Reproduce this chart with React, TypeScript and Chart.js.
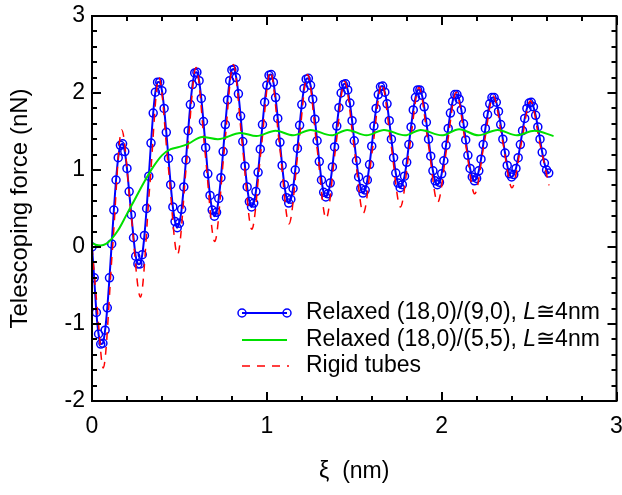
import React, { useEffect, useRef } from "react";
import { Chart, registerables } from "chart.js";
Chart.register(...registerables);

// ---------------- data ----------------
const xTickValues = [0, 1, 2, 3];
const yTickValues = [-2, -1, 0, 1, 2, 3];

// Relaxed (18,0)/(9,0)
const relaxed90Xi = [
  0, 0.0125, 0.025, 0.0375, 0.05, 0.0625, 0.075, 0.0875,
  0.1, 0.1125, 0.125, 0.1375, 0.15, 0.1625, 0.175, 0.1875,
  0.2, 0.2125, 0.225, 0.2375, 0.25, 0.2625, 0.275, 0.2875,
  0.3, 0.3125, 0.325, 0.3375, 0.35, 0.3625, 0.375, 0.3875,
  0.4, 0.4125, 0.425, 0.4375, 0.45, 0.4625, 0.475, 0.4875,
  0.5, 0.5125, 0.525, 0.5375, 0.55, 0.5625, 0.575, 0.5875,
  0.6, 0.6125, 0.625, 0.6375, 0.65, 0.6625, 0.675, 0.6875,
  0.7, 0.7125, 0.725, 0.7375, 0.75, 0.7625, 0.775, 0.7875,
  0.8, 0.8125, 0.825, 0.8375, 0.85, 0.8625, 0.875, 0.8875,
  0.9, 0.9125, 0.925, 0.9375, 0.95, 0.9625, 0.975, 0.9875,
  1.0, 1.0125, 1.025, 1.0375, 1.05, 1.0625, 1.075, 1.0875,
  1.1, 1.1125, 1.125, 1.1375, 1.15, 1.1625, 1.175, 1.1875,
  1.2, 1.2125, 1.225, 1.2375, 1.25, 1.2625, 1.275, 1.2875,
  1.3, 1.3125, 1.325, 1.3375, 1.35, 1.3625, 1.375, 1.3875,
  1.4, 1.4125, 1.425, 1.4375, 1.45, 1.4625, 1.475, 1.4875,
  1.5, 1.5125, 1.525, 1.5375, 1.55, 1.5625, 1.575, 1.5875,
  1.6, 1.6125, 1.625, 1.6375, 1.65, 1.6625, 1.675, 1.6875,
  1.7, 1.7125, 1.725, 1.7375, 1.75, 1.7625, 1.775, 1.7875,
  1.8, 1.8125, 1.825, 1.8375, 1.85, 1.8625, 1.875, 1.8875,
  1.9, 1.9125, 1.925, 1.9375, 1.95, 1.9625, 1.975, 1.9875,
  2.0, 2.0125, 2.025, 2.0375, 2.05, 2.0625, 2.075, 2.0875,
  2.1, 2.1125, 2.125, 2.1375, 2.15, 2.1625, 2.175, 2.1875,
  2.2, 2.2125, 2.225, 2.2375, 2.25, 2.2625, 2.275, 2.2875,
  2.3, 2.3125, 2.325, 2.3375, 2.35, 2.3625, 2.375, 2.3875,
  2.4, 2.4125, 2.425, 2.4375, 2.45, 2.4625, 2.475, 2.4875,
  2.5, 2.5125, 2.525, 2.5375, 2.55, 2.5625, 2.575, 2.5875,
  2.6, 2.6125,
];
const relaxed90Force = [
  0.0, -0.4, -0.85, -1.13, -1.26, -1.25, -1.08, -0.79, -0.4, 0.04, 0.48, 0.87, 1.16, 1.32, 1.34, 1.24, 1.02,
  0.72, 0.42, 0.12, -0.12, -0.22, -0.22, -0.1, 0.15, 0.5, 0.92, 1.35, 1.74, 2.01, 2.14, 2.14, 2.03, 1.8,
  1.49, 1.15, 0.81, 0.52, 0.33, 0.25, 0.31, 0.49, 0.78, 1.13, 1.51, 1.85, 2.11, 2.26, 2.27, 2.16, 1.93,
  1.63, 1.29, 0.95, 0.67, 0.48, 0.4, 0.45, 0.63, 0.9, 1.24, 1.59, 1.91, 2.16, 2.3, 2.31, 2.2, 1.99,
  1.7, 1.37, 1.05, 0.78, 0.59, 0.52, 0.57, 0.72, 0.97, 1.27, 1.59, 1.88, 2.1, 2.23, 2.24, 2.14, 1.94,
  1.67, 1.36, 1.06, 0.81, 0.64, 0.57, 0.62, 0.76, 1.0, 1.28, 1.58, 1.85, 2.06, 2.18, 2.19, 2.1, 1.92,
  1.66, 1.38, 1.11, 0.87, 0.71, 0.65, 0.69, 0.83, 1.04, 1.3, 1.57, 1.81, 2.0, 2.11, 2.12, 2.04, 1.87,
  1.64, 1.38, 1.12, 0.91, 0.76, 0.7, 0.74, 0.87, 1.07, 1.31, 1.57, 1.8, 1.98, 2.08, 2.09, 2.01, 1.86,
  1.64, 1.4, 1.16, 0.96, 0.83, 0.77, 0.81, 0.92, 1.1, 1.33, 1.56, 1.78, 1.94, 2.04, 2.04, 1.97, 1.82,
  1.62, 1.4, 1.18, 0.99, 0.86, 0.81, 0.84, 0.95, 1.12, 1.32, 1.54, 1.74, 1.89, 1.98, 1.98, 1.92, 1.78,
  1.6, 1.39, 1.19, 1.02, 0.91, 0.86, 0.89, 0.99, 1.14, 1.33, 1.54, 1.72, 1.86, 1.94, 1.94, 1.88, 1.76,
  1.59, 1.4, 1.22, 1.06, 0.95, 0.91, 0.94, 1.02, 1.16, 1.33, 1.51, 1.67, 1.8, 1.87, 1.88, 1.82, 1.71,
  1.56, 1.4, 1.23, 1.09, 1.0, 0.96,
];

// Relaxed (18,0)/(5,5)
const relaxed55Xi = [
  0, 0.02, 0.05, 0.08, 0.11, 0.15, 0.2, 0.25, 0.3, 0.35, 0.4, 0.45, 0.5, 0.55, 0.63, 0.72,
  0.85, 0.94, 1.05, 1.15, 1.25, 1.37, 1.46, 1.57, 1.67, 1.79, 1.88, 2.0, 2.1, 2.21, 2.32, 2.43, 2.53, 2.64,
];
const relaxed55Force = [
  0.05, 0.03, 0.02, 0.04, 0.1, 0.22, 0.43, 0.64, 0.85, 1.04, 1.19, 1.27, 1.3, 1.34, 1.43, 1.4,
  1.48, 1.44, 1.51, 1.45, 1.52, 1.45, 1.52, 1.45, 1.52, 1.45, 1.52, 1.45, 1.53, 1.45, 1.52, 1.45, 1.51, 1.44,
];

// Rigid tubes
const rigidXi = [
  0, 0.032, 0.064, 0.117, 0.17, 0.223, 0.277, 0.33, 0.383, 0.436, 0.489, 0.542, 0.595, 0.648,
  0.702, 0.755, 0.808, 0.861, 0.914, 0.967, 1.02, 1.074, 1.127, 1.18, 1.233, 1.286, 1.339, 1.392,
  1.445, 1.499, 1.552, 1.605, 1.658, 1.711, 1.764, 1.817, 1.87, 1.924, 1.977, 2.03, 2.083, 2.136,
  2.189, 2.242, 2.295, 2.349, 2.402, 2.455, 2.508, 2.561, 2.614,
];
const rigidForce = [
  0.0, -0.85, -1.57, -0.03, 1.52, 0.44, -0.65, 0.78, 2.2, 1.05, -0.1, 1.12, 2.33, 1.2,
  0.07, 1.22, 2.37, 1.3, 0.23, 1.26, 2.28, 1.29, 0.3, 1.27, 2.24, 1.31, 0.37, 1.26,
  2.15, 1.3, 0.44, 1.28, 2.12, 1.32, 0.52, 1.3, 2.07, 1.33, 0.58, 1.3, 2.01, 1.35,
  0.69, 1.33, 1.96, 1.37, 0.77, 1.34, 1.9, 1.35, 0.8,
];

const seriesLabels = ["Relaxed (18,0)/(9,0), ", "Relaxed (18,0)/(5,5), ", "Rigid tubes"];
const xTitle = "ξ  (nm)";
const yTitle = "Telescoping force (nN)";

const FONT = "'Liberation Sans', Arial, sans-serif";
const FS = 23;
const BLUE = "#0000ff";
const GREEN = "#00e000";
const RED = "#ff0000";

function pts(xs: number[], ys: number[]) {
  return xs.map((x, i) => ({ x, y: ys[i] }));
}

export default function App() {
  const ref = useRef<HTMLCanvasElement>(null);
  useEffect(() => {
    document.body.style.margin = "0";
    const canvas = ref.current!;

    const decor = {
      id: "decor",
      afterDatasetsDraw(chart: any) {
        const { ctx, chartArea: a, scales } = chart;
        const xs = scales.x;
        const ys = scales.y;
        ctx.save();
        ctx.strokeStyle = "#000";
        ctx.lineWidth = 2;
        ctx.strokeRect(a.left, a.top, a.right - a.left, a.bottom - a.top);
        ctx.beginPath();
        for (let k = 0; k <= 15; k++) {
          const px = Math.round(xs.getPixelForValue(k * 0.2));
          const L = k % 5 === 0 ? 9 : 5;
          ctx.moveTo(px, a.bottom);
          ctx.lineTo(px, a.bottom - L);
          ctx.moveTo(px, a.top);
          ctx.lineTo(px, a.top + L);
        }
        for (let k = 0; k <= 25; k++) {
          const py = Math.round(ys.getPixelForValue(-2 + k * 0.2));
          const L = k % 5 === 0 ? 9 : 5;
          ctx.moveTo(a.left, py);
          ctx.lineTo(a.left + L, py);
          ctx.moveTo(a.right, py);
          ctx.lineTo(a.right - L, py);
        }
        ctx.stroke();

        // legend
        const lx0 = 242;
        const lx1 = 287;
        const tx = 306;
        const rows = [313, 340, 366];
        ctx.textBaseline = "middle";
        ctx.fillStyle = "#000";
        ctx.strokeStyle = BLUE;
        ctx.lineWidth = 2;
        ctx.beginPath();
        ctx.moveTo(lx0, rows[0]);
        ctx.lineTo(lx1, rows[0]);
        ctx.stroke();
        ctx.lineWidth = 1.5;
        for (const cx of [lx0, lx1]) {
          ctx.beginPath();
          ctx.arc(cx, rows[0], 4, 0, Math.PI * 2);
          ctx.stroke();
        }
        ctx.strokeStyle = GREEN;
        ctx.lineWidth = 2;
        ctx.beginPath();
        ctx.moveTo(lx0, rows[1]);
        ctx.lineTo(lx1, rows[1]);
        ctx.stroke();
        ctx.strokeStyle = RED;
        ctx.lineWidth = 1.5;
        ctx.setLineDash([8, 7]);
        ctx.beginPath();
        ctx.moveTo(lx0, rows[2]);
        ctx.lineTo(lx1 + 2, rows[2]);
        ctx.stroke();
        ctx.setLineDash([]);

        const drawRich = (first: string, y: number) => {
          ctx.font = `${FS}px ${FONT}`;
          ctx.fillText(first, tx, y);
          let x = tx + ctx.measureText(first).width;
          ctx.font = `italic ${FS}px ${FONT}`;
          ctx.fillText("L", x, y);
          x += ctx.measureText("L").width;
          ctx.font = `${FS}px ${FONT}`;
          ctx.fillText("≅4nm", x, y);
        };
        drawRich(seriesLabels[0], rows[0]);
        drawRich(seriesLabels[1], rows[1]);
        ctx.font = `${FS}px ${FONT}`;
        ctx.fillText(seriesLabels[2], tx, rows[2]);

        // axis titles
        ctx.textAlign = "center";
        ctx.fillText(xTitle, (a.left + a.right) / 2, 472);
        ctx.font = `24px ${FONT}`;
        ctx.translate(20, (a.top + a.bottom) / 2);
        ctx.rotate(-Math.PI / 2);
        ctx.fillText(yTitle, 0, 0);
        ctx.restore();
      },
    };

    const chart = new Chart(canvas, {
      type: "line",
      data: {
        datasets: [
          {
            label: "Relaxed (18,0)/(5,5)",
            data: pts(relaxed55Xi, relaxed55Force),
            borderColor: GREEN,
            borderWidth: 2,
            pointRadius: 0,
            cubicInterpolationMode: "monotone",
            order: 0,
          },
          {
            label: "Rigid tubes",
            data: pts(rigidXi, rigidForce),
            borderColor: RED,
            borderWidth: 1.5,
            borderDash: [8, 7],
            pointRadius: 0,
            cubicInterpolationMode: "monotone",
            order: 1,
          },
          {
            label: "Relaxed (18,0)/(9,0)",
            data: pts(relaxed90Xi, relaxed90Force),
            borderColor: BLUE,
            borderWidth: 2,
            pointRadius: 4,
            pointBorderWidth: 1.5,
            pointBorderColor: BLUE,
            pointBackgroundColor: "rgba(0,0,0,0)",
            tension: 0.2,
            order: 2,
          },
        ],
      },
      options: {
        animation: false,
        responsive: false,
        devicePixelRatio: 1,
        events: [],
        layout: { padding: { left: 0, right: 5, top: 16, bottom: 0 } },
        plugins: { legend: { display: false }, tooltip: { enabled: false } },
        scales: {
          x: {
            type: "linear",
            min: 0,
            max: 3,
            grid: { display: false, drawTicks: false },
            border: { display: false },
            ticks: {
              stepSize: 1,
              autoSkip: false,
              maxRotation: 0,
              padding: 12,
              color: "#000",
              font: { family: FONT, size: FS },
              callback: (v: any) => (xTickValues.includes(Number(v)) ? String(v) : ""),
            },
            afterFit: (s: any) => {
              s.height = 94;
              s.paddingLeft = 0;
              s.paddingRight = 0;
            },
          },
          y: {
            type: "linear",
            min: -2,
            max: 3,
            grid: { display: false, drawTicks: false },
            border: { display: false },
            ticks: {
              stepSize: 1,
              padding: 7,
              color: "#000",
              font: { family: FONT, size: FS },
              callback: (v: any) => (yTickValues.includes(Number(v)) ? String(v) : ""),
            },
            afterFit: (s: any) => {
              s.width = 92;
              s.paddingTop = 0;
              s.paddingBottom = 0;
            },
          },
        },
      },
      plugins: [decor],
    });
    return () => chart.destroy();
  }, []);

  return (
    <div style={{ width: 622, height: 495 }}>
      <canvas ref={ref} width={622} height={495} style={{ display: "block" }} />
    </div>
  );
}
